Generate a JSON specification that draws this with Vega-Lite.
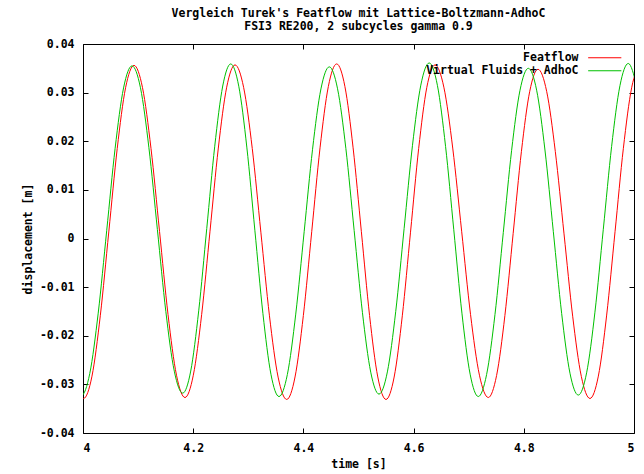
{
  "$schema": "https://vega.github.io/schema/vega-lite/v6.json",
  "width": 551,
  "height": 389,
  "autosize": {"type": "none"},
  "padding": {"left": 83, "top": 44, "right": 10, "bottom": 41},
  "background": "white",
  "title": {
    "text": ["Vergleich Turek's Featflow mit Lattice-Boltzmann-AdhoC", "FSI3 RE200, 2 subcycles gamma 0.9"],
    "font": "DejaVu Sans Mono",
    "fontSize": 11.5,
    "fontWeight": "bold",
    "color": "black",
    "anchor": "middle",
    "lineHeight": 13,
    "offset": 6
  },
  "datasets": {
    "ff": [
      {"t":3.9857,"v":-0.02831},{"t":4.001,"v":-0.0329},{"t":4.0163,"v":-0.02831},{"t":4.0315,"v":-0.01578},{"t":4.0468,"v":0.00135},{"t":4.0621,"v":0.01848},{"t":4.0773,"v":0.03101},{"t":4.0926,"v":0.0356},
      {"t":4.108,"v":0.03102},{"t":4.1234,"v":0.01853},{"t":4.1389,"v":0.00145},{"t":4.1543,"v":-0.01563},{"t":4.1697,"v":-0.02812},{"t":4.1851,"v":-0.0327},
      {"t":4.2002,"v":-0.02812},{"t":4.2154,"v":-0.0156},{"t":4.2305,"v":0.0015},{"t":4.2456,"v":0.0186},{"t":4.2608,"v":0.03112},{"t":4.2759,"v":0.0357},
      {"t":4.2915,"v":0.03109},{"t":4.3072,"v":0.0185},{"t":4.3228,"v":0.0013},{"t":4.3384,"v":-0.0159},{"t":4.3541,"v":-0.0285},{"t":4.3697,"v":-0.0331},
      {"t":4.3848,"v":-0.02848},{"t":4.3999,"v":-0.01585},{"t":4.4151,"v":0.0014},{"t":4.4302,"v":0.01865},{"t":4.4453,"v":0.03128},{"t":4.4604,"v":0.0359},
      {"t":4.4753,"v":0.03128},{"t":4.4902,"v":0.01865},{"t":4.5052,"v":0.0014},{"t":4.5201,"v":-0.01585},{"t":4.535,"v":-0.02848},{"t":4.5499,"v":-0.0331},
      {"t":4.5647,"v":-0.02849},{"t":4.5795,"v":-0.0159},{"t":4.5944,"v":0.0013},{"t":4.6092,"v":0.0185},{"t":4.624,"v":0.03109},{"t":4.6388,"v":0.0357},
      {"t":4.6549,"v":0.03112},{"t":4.671,"v":0.0186},{"t":4.6872,"v":0.0015},{"t":4.7033,"v":-0.0156},{"t":4.7195,"v":-0.02812},{"t":4.7356,"v":-0.0327},
      {"t":4.7506,"v":-0.02818},{"t":4.7657,"v":-0.01583},{"t":4.7807,"v":0.00105},{"t":4.7957,"v":0.01793},{"t":4.8108,"v":0.03028},{"t":4.8258,"v":0.0348},
      {"t":4.8415,"v":0.03026},{"t":4.8572,"v":0.01788},{"t":4.873,"v":0.00095},{"t":4.8887,"v":-0.01598},{"t":4.9044,"v":-0.02836},{"t":4.9201,"v":-0.0329},
      {"t":4.9353,"v":-0.0283},{"t":4.9504,"v":-0.01575},{"t":4.9656,"v":0.0014},{"t":4.9807,"v":0.01855},{"t":4.9959,"v":0.0311},{"t":5.011,"v":0.0357}
    ],
    "vf": [
      {"t":3.9817,"v":-0.02776},{"t":3.997,"v":-0.0323},{"t":4.0123,"v":-0.02776},{"t":4.0276,"v":-0.01535},{"t":4.043,"v":0.0016},{"t":4.0583,"v":0.01855},{"t":4.0736,"v":0.03096},{"t":4.0889,"v":0.0355},
      {"t":4.1043,"v":0.03099},{"t":4.1196,"v":0.01868},{"t":4.135,"v":0.00185},{"t":4.1503,"v":-0.01498},{"t":4.1657,"v":-0.02729},{"t":4.181,"v":-0.0318},
      {"t":4.1955,"v":-0.02726},{"t":4.21,"v":-0.01488},{"t":4.2246,"v":0.00205},{"t":4.2391,"v":0.01898},{"t":4.2536,"v":0.03136},{"t":4.2681,"v":0.0359},
      {"t":4.2827,"v":0.03132},{"t":4.2973,"v":0.0188},{"t":4.3119,"v":0.0017},{"t":4.3265,"v":-0.0154},{"t":4.3411,"v":-0.02792},{"t":4.3557,"v":-0.0325},
      {"t":4.3709,"v":-0.02796},{"t":4.3861,"v":-0.01555},{"t":4.4014,"v":0.0014},{"t":4.4166,"v":0.01835},{"t":4.4318,"v":0.03076},{"t":4.447,"v":0.0353},
      {"t":4.462,"v":0.03079},{"t":4.4771,"v":0.01848},{"t":4.4921,"v":0.00165},{"t":4.5071,"v":-0.01518},{"t":4.5222,"v":-0.02749},{"t":4.5372,"v":-0.032},
      {"t":4.5524,"v":-0.02744},{"t":4.5676,"v":-0.01498},{"t":4.5828,"v":0.00205},{"t":4.5979,"v":0.01908},{"t":4.6131,"v":0.03154},{"t":4.6283,"v":0.0361},
      {"t":4.6432,"v":0.0315},{"t":4.658,"v":0.01895},{"t":4.6729,"v":0.0018},{"t":4.6877,"v":-0.01535},{"t":4.7026,"v":-0.0279},{"t":4.7174,"v":-0.0325},
      {"t":4.7325,"v":-0.02798},{"t":4.7477,"v":-0.01563},{"t":4.7628,"v":0.00125},{"t":4.7779,"v":0.01813},{"t":4.7931,"v":0.03048},{"t":4.8082,"v":0.035},
      {"t":4.8233,"v":0.0305},{"t":4.8384,"v":0.0182},{"t":4.8536,"v":0.0014},{"t":4.8687,"v":-0.0154},{"t":4.8838,"v":-0.0277},{"t":4.8989,"v":-0.0322},
      {"t":4.914,"v":-0.02763},{"t":4.9291,"v":-0.01515},{"t":4.9443,"v":0.0019},{"t":4.9594,"v":0.01895},{"t":4.9745,"v":0.03143},{"t":4.9896,"v":0.036},
      {"t":5.0046,"v":0.03144}
    ]
  },
  "layer": [
    {
      "data": {"name": "ff"},
      "mark": {"type": "line", "strokeWidth": 1, "interpolate": "monotone", "clip": true},
      "encoding": {
        "x": {"field": "t", "type": "quantitative", "scale": {"domain": [4, 5], "nice": false, "zero": false},
              "axis": {"title": "time [s]", "values": [4, 4.2, 4.4, 4.6, 4.8, 5], "labelExpr": "'' + datum.value", "orient": "bottom", "titlePadding": 5}},
        "y": {"field": "v", "type": "quantitative", "scale": {"domain": [-0.04, 0.04], "nice": false, "zero": false},
              "axis": {"title": "displacement [m]", "values": [-0.04, -0.03, -0.02, -0.01, 0, 0.01, 0.02, 0.03, 0.04], "labelExpr": "'' + datum.value", "orient": "left", "titlePadding": 6}},
        "color": {"datum": "Featflow", "type": "nominal",
                  "scale": {"domain": ["Featflow", "Virtual Fluids + AdhoC"], "range": ["#ff0000", "#00c000"]},
                  "legend": {"title": null, "orient": "none", "legendX": 497, "legendY": 8, "padding": 0,
                             "symbolType": "M-5,0H5", "symbolSize": 44, "symbolStrokeWidth": 1, "symbolFillColor": "transparent",
                             "labelAlign": "right", "labelOffset": -32, "symbolOffset": 19,
                             "labelFont": "DejaVu Sans Mono", "labelFontWeight": "bold", "labelFontSize": 11.5, "labelColor": "black",
                             "rowPadding": 0, "labelLimit": 300}}
      }
    },
    {
      "data": {"name": "vf"},
      "mark": {"type": "line", "strokeWidth": 1, "interpolate": "monotone", "clip": true},
      "encoding": {
        "x": {"field": "t", "type": "quantitative", "scale": {"domain": [4, 5], "nice": false, "zero": false},
              "axis": {"title": null, "values": [4, 4.2, 4.4, 4.6, 4.8, 5], "labels": false, "orient": "top"}},
        "y": {"field": "v", "type": "quantitative", "scale": {"domain": [-0.04, 0.04], "nice": false, "zero": false},
              "axis": {"title": null, "values": [-0.04, -0.03, -0.02, -0.01, 0, 0.01, 0.02, 0.03, 0.04], "labels": false, "orient": "right"}},
        "color": {"datum": "Virtual Fluids + AdhoC", "type": "nominal"}
      }
    }
  ],
  "resolve": {"axis": {"x": "independent", "y": "independent"}},
  "config": {
    "view": {"stroke": "black", "strokeWidth": 1},
    "axis": {
      "domain": false, "grid": false, "tickColor": "black", "tickSize": -5, "tickWidth": 1,
      "labelFont": "DejaVu Sans Mono", "labelFontWeight": "bold", "labelFontSize": 11.5, "labelColor": "black",
      "labelOverlap": false, "labelPadding": 14,
      "titleFont": "DejaVu Sans Mono", "titleFontWeight": "bold", "titleFontSize": 11.5, "titleColor": "black"
    }
  }
}
